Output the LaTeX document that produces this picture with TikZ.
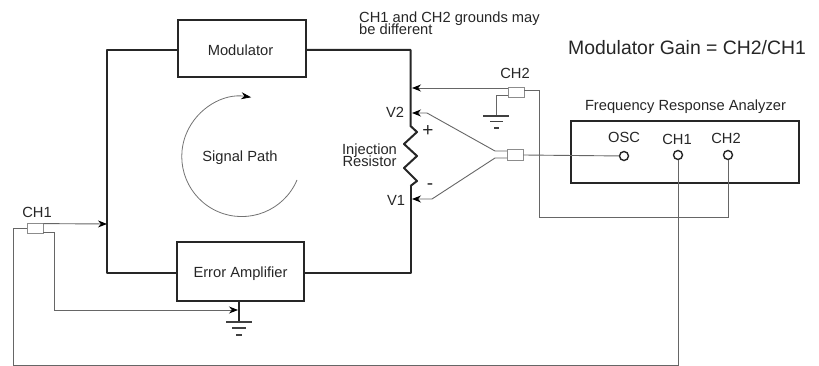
\documentclass[tikz,border=0pt]{standalone}
\usepackage{fontspec}
\setmainfont{Liberation Sans}
\usetikzlibrary{arrows.meta, calc}
\tikzset{
    block/.style={draw, rectangle, line width=1.6pt, black!85, text=black!85, inner sep=0pt, align=center, font=\fontsize{14.7}{13}\selectfont},
    wire/.style={line width=2pt, black!85, line join=round},
    probe/.style={draw=black!45, rectangle, line width=0.8pt, fill=white, inner sep=0pt},
    lead/.style={line width=0.9pt, black!60},
    tiplead/.style={lead, -{Stealth[length=9pt,width=7pt,black]}},
    port/.style={draw, circle, line width=1.4pt, black!85, fill=white, minimum size=9pt, inner sep=0pt},
    label/.style={text=black!85, inner sep=0pt, font=\fontsize{14.7}{13}\selectfont, align=left},
    earth/.style={line width=1.1pt, black!75},
}
\begin{document}
\begin{tikzpicture}[x=1pt, y=-1pt]
    \useasboundingbox (0,0) rectangle (819,366);

    \node[block, minimum width=128pt, minimum height=57pt, text height=15pt, text depth=0pt] (modulator) at (242,48.5) {Modulator\hspace*{3pt}};
    \node[block, minimum width=127pt, minimum height=59pt, text height=11pt, text depth=0pt] (erroramp) at (240.5,271.5) {Error Amplifier};
    \node[block, minimum width=228pt, minimum height=62pt] (analyzer) at (685,152) {};

    \node[port] (osc) at (624,156) {};
    \node[port] (chone) at (678,155) {};
    \node[port] (chtwo) at (728,155) {};

    \node[probe, minimum width=16pt, minimum height=10pt] (probeone) at (35,228) {};
    \node[probe, minimum width=16pt, minimum height=10pt] (probetwo) at (516,92) {};
    \node[probe, minimum width=16pt, minimum height=11pt] (probeinj) at (515,155) {};

    \coordinate (restop) at (410.5,126);
    \coordinate (resbot) at (410.5,186);
    \coordinate (leftbus) at (107,224);
    \coordinate (gndone) at (239,322);
    \coordinate (gndtwo) at (496,116);
    \coordinate (tipgain) at (412,88);
    \coordinate (tiptwo) at (412,113);
    \coordinate (tipone) at (412,199);

    % main loop
    \draw[wire] (modulator.west |- 0,50) -| (leftbus) |- (erroramp.west |- 0,272.5);
    \draw[wire] (modulator.east |- 0,50) -| (restop) -- ++(6.5,6) -- ++(-13,12) -- ++(13,12) -- ++(-13,12) -- ++(13,13) -- (resbot);
    \draw[wire] (erroramp.east |- 0,272.5) -| (resbot);

    % signal path
    \node[label] (signal) at (240,158) {Signal Path};
    \draw[line width=0.8pt, black!55, -{Stealth[length=10pt,width=7pt,black]}] (297,180) arc[start angle=23, end angle=279, radius=60];

    % leads
    \draw[tiplead] (probeone.north east) ++(0,1) -- (leftbus);
    \draw[tiplead] (probeone.south east) ++(0,-1) -- ++(11,0) |- (238,310);
    \draw[wire, line width=1.4pt] (erroramp.south -| gndone) -- (gndone);
    \draw[lead] (probeone.west) -- (13,228) |- (678,365) -- (chone);
    \draw[tiplead] (probetwo.west |- tipgain) -- (tipgain);
    \draw[lead] (probetwo.east |- 0,90) -| (539,217) -| (chtwo);
    \draw[lead] (probetwo.west |- 0,95) -| (gndtwo);
    \draw[lead] (probeinj.east) -- (osc);
    \draw[tiplead] (507,151) -- (495,151) -- (427,113) -- (tiptwo);
    \draw[tiplead] (507,158) -- (495,158) -- (432,199) -- (tipone);

    % grounds
    \draw[earth] ($(gndone)+(-13,0)$) -- ++(26,0);
    \draw[earth] ($(gndone)+(-7,6)$) -- ++(14,0);
    \draw[earth] ($(gndone)+(-3,13)$) -- ++(6,0);
    \draw[earth] ($(gndtwo)+(-13,0)$) -- ++(26,0);
    \draw[earth] ($(gndtwo)+(-6,5.5)$) -- ++(13,0);
    \draw[earth] ($(gndtwo)+(-2,12)$) -- ++(5,0);

    % labels
    \node[label, anchor=west] (note) at (359,23) {CH1 and CH2 grounds may\\[-3pt]be different};
    \node[label, anchor=west, font=\fontsize{19.4}{19.4}\selectfont] (gain) at (568,48) {Modulator Gain = CH2/CH1};
    \node[label] (fratitle) at (685.5,107) {Frequency Response Analyzer};
    \node[label] (oscname) at (624,137) {OSC};
    \node[label] (chonename) at (677,139) {CH1};
    \node[label] (chtwoname) at (726,138) {CH2};
    \node[label] (probetwoname) at (515,73) {CH2};
    \node[label] (probeonename) at (37,212) {CH1};
    \node[label] (vtwo) at (395,112) {V2};
    \node[label] (vone) at (396,200) {V1};
    \node[label, align=center] (injection) at (369.5,155) {Injection\\[-3pt]Resistor};
    \node[label, font=\fontsize{19}{19}\selectfont] (plus) at (428,131) {+};
    \node[label, font=\fontsize{19}{19}\selectfont] (minus) at (430,187) {-};
\end{tikzpicture}
\end{document}
